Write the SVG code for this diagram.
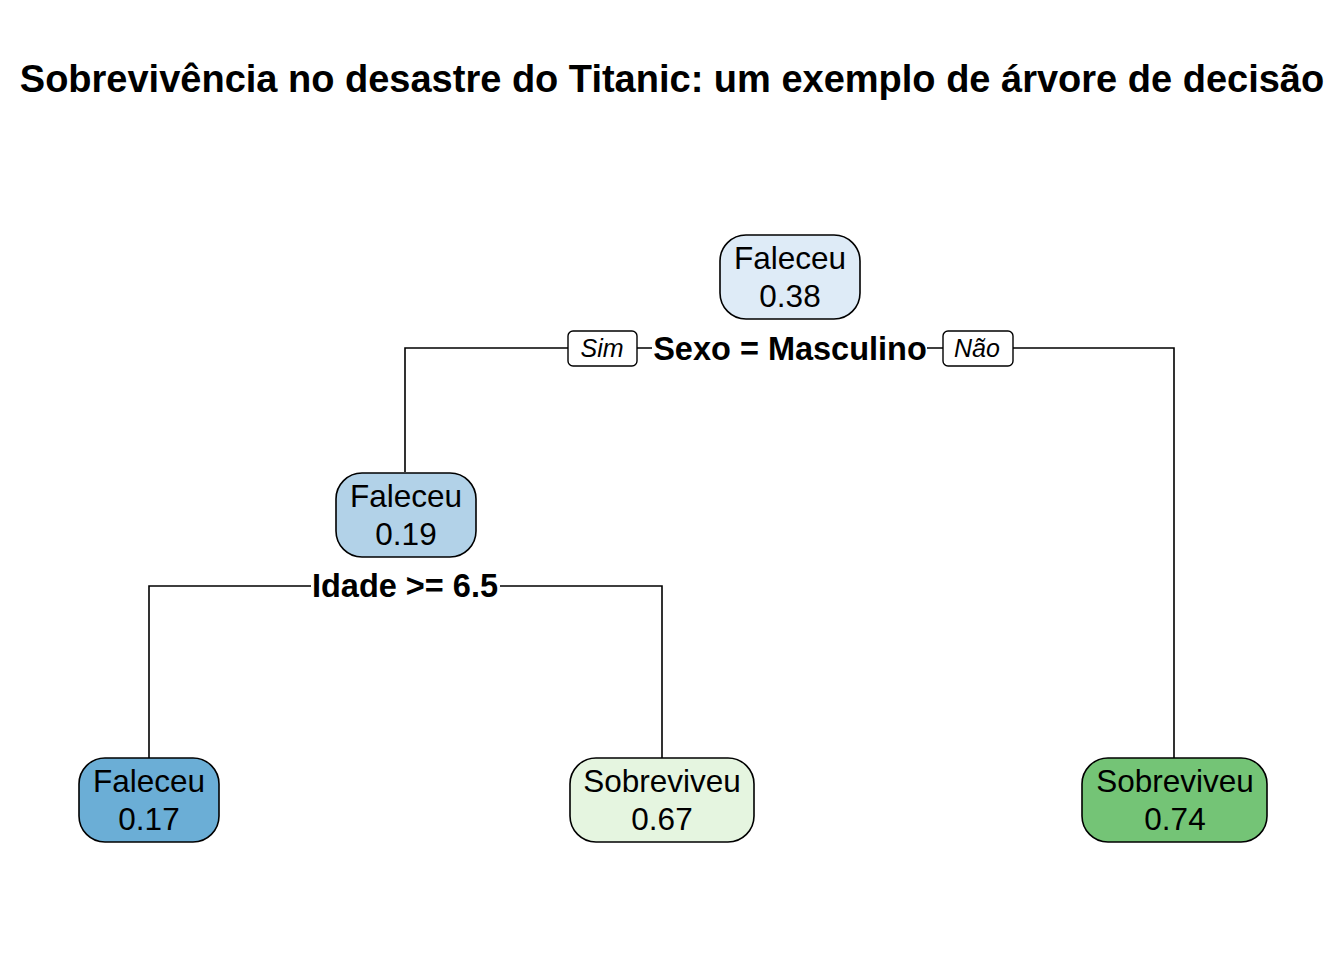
<svg xmlns="http://www.w3.org/2000/svg" width="1344" height="960" viewBox="0 0 1344 960">
<style>
.title{font-family:"Liberation Sans",Arial,sans-serif;font-weight:bold;font-size:38px;fill:#000}
.node rect{stroke:#000;stroke-width:1.6}
.nt{font-family:"Liberation Sans",Arial,sans-serif;font-size:31.5px;fill:#000;text-anchor:middle}
.split{font-family:"Liberation Sans",Arial,sans-serif;font-weight:bold;font-size:32.5px;fill:#000;text-anchor:middle}
.lab rect{fill:#fff;stroke:#000;stroke-width:1.4}
.lab text{font-family:"Liberation Sans",Arial,sans-serif;font-style:italic;font-size:25px;fill:#000;text-anchor:middle}
.edge{fill:none;stroke:#000;stroke-width:1.6}
</style>
<rect width="1344" height="960" fill="#fff"/>
<text class="title" x="672" y="92" text-anchor="middle">Sobrevivência no desastre do Titanic: um exemplo de árvore de decisão</text>
<g id="connectors">
<path class="edge" d="M405,472 V348 H568 M637,348 H652 M927,348 H943 M1013,348 H1174 V758"/>
<path class="edge" d="M149,758 V586 H311 M500,586 H662 V758"/>
</g>
<g id="labels">
<g class="lab"><rect x="568" y="331" width="69" height="35" rx="5"/><text x="602" y="357">Sim</text></g>
<g class="lab"><rect x="943" y="331" width="70" height="35" rx="5"/><text x="977" y="357">Não</text></g>
<text class="split" x="790" y="360">Sexo = Masculino</text>
<text class="split" x="405" y="597">Idade &gt;= 6.5</text>
</g>
<g id="n1" class="node"><rect x="720" y="235" width="140" height="84" rx="26" fill="#DEEBF7"/><text class="nt" x="790" y="269">Faleceu</text><text class="nt" x="790" y="307">0.38</text></g>
<g id="n2" class="node"><rect x="336" y="473" width="140" height="84" rx="26" fill="#B2D2E8"/><text class="nt" x="406" y="507">Faleceu</text><text class="nt" x="406" y="545">0.19</text></g>
<g id="n4" class="node"><rect x="79" y="758" width="140" height="84" rx="26" fill="#6BAED6"/><text class="nt" x="149" y="792">Faleceu</text><text class="nt" x="149" y="830">0.17</text></g>
<g id="n5" class="node"><rect x="570" y="758" width="184" height="84" rx="26" fill="#E5F5E0"/><text class="nt" x="662" y="792">Sobreviveu</text><text class="nt" x="662" y="830">0.67</text></g>
<g id="n3" class="node"><rect x="1082" y="758" width="185" height="84" rx="26" fill="#74C476"/><text class="nt" x="1175" y="792">Sobreviveu</text><text class="nt" x="1175" y="830">0.74</text></g>
</svg>
